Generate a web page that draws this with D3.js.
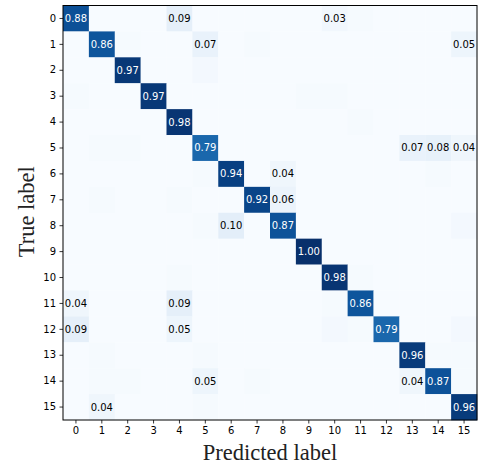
<!DOCTYPE html>
<html><head><meta charset="utf-8">
<script src="https://cdn.jsdelivr.net/npm/d3@7"></script>
<style>body{margin:0;background:#fff}svg{display:block}</style>
</head><body>
<svg id="c" width="478" height="466"></svg>
<script>
const labels = ["0","1","2","3","4","5","6","7","8","9","10","11","12","13","14","15"];
const xTitle = "Predicted label";
const yTitle = "True label";
// rows = true label, columns = predicted label
const matrix = [
 [0.88,0,0,0,0.09,0,0,0,0,0,0.03,0.01,0,0,0,0],
 [0,0.86,0.01,0,0,0.07,0,0.01,0,0,0,0,0,0,0,0.05],
 [0,0,0.97,0,0,0.02,0,0,0,0,0,0,0,0,0,0],
 [0.01,0,0,0.97,0,0,0,0,0,0.01,0.01,0,0,0,0,0],
 [0,0,0,0,0.98,0,0,0,0,0,0,0.01,0,0,0,0],
 [0,0.01,0.01,0,0,0.79,0,0,0,0,0,0,0,0.07,0.08,0.04],
 [0,0,0,0,0,0.01,0.94,0,0.04,0,0,0,0,0,0.01,0],
 [0,0.01,0,0,0.01,0,0,0.92,0.06,0,0,0,0,0,0,0],
 [0,0,0,0,0,0.01,0.10,0,0.87,0,0,0,0,0,0,0.02],
 [0,0,0,0,0,0,0,0,0,1.00,0,0,0,0,0,0],
 [0,0,0,0,0.01,0,0,0,0,0,0.98,0.01,0,0,0,0],
 [0.04,0,0,0,0.09,0,0,0,0,0,0.01,0.86,0,0,0,0],
 [0.09,0,0,0,0.05,0,0,0,0,0,0.02,0.01,0.79,0,0,0.02],
 [0,0.01,0,0,0,0.01,0,0,0,0,0,0,0,0.96,0.01,0.01],
 [0,0.01,0.01,0,0,0.05,0,0.01,0,0,0,0,0,0.04,0.87,0.01],
 [0,0.04,0,0,0,0.01,0,0,0,0,0,0,0,0,0,0.96]
];

const svg = d3.select("#c");
const L = 63, T = 5.5, W = 414, H = 414.5;
const x = d3.scaleBand().domain(labels).range([L, L + W]);
const y = d3.scaleBand().domain(labels).range([T, T + H]);
const vmax = d3.max(matrix.flat());
const color = d3.scaleSequential(d3.interpolateBlues).domain([0, vmax]);

const cells = [];
matrix.forEach((row, i) => row.forEach((v, j) => cells.push({r: labels[i], c: labels[j], v})));

svg.append("g").selectAll("rect").data(cells).join("rect")
  .attr("x", d => x(d.c)).attr("y", d => y(d.r))
  .attr("width", x.bandwidth() + 0.3).attr("height", y.bandwidth() + 0.3)
  .attr("fill", d => color(d.v));

svg.append("g").selectAll("text").data(cells.filter(d => d.v >= 0.03)).join("text")
  .attr("x", d => x(d.c) + x.bandwidth() / 2)
  .attr("y", d => y(d.r) + y.bandwidth() / 2)
  .attr("dy", "0.35em")
  .attr("text-anchor", "middle")
  .attr("font-family", "DejaVu Sans")
  .attr("font-size", 10)
  .attr("fill", d => d.v > vmax / 2 ? "#fff" : "#000")
  .text(d => d.v.toFixed(2));

const xAxis = svg.append("g").attr("transform", `translate(0,${T + H})`)
  .call(d3.axisBottom(x).tickSize(3.5).tickPadding(3.5));
const yAxis = svg.append("g").attr("transform", `translate(${L},0)`)
  .call(d3.axisLeft(y).tickSize(3.5).tickPadding(3.5));
[xAxis, yAxis].forEach(g => {
  g.select(".domain").remove();
  g.selectAll("text").attr("font-family", "DejaVu Sans").attr("font-size", 10).attr("fill", "#000");
  g.selectAll("line").attr("stroke", "#000").attr("stroke-width", 0.8);
});

svg.append("rect").attr("x", L).attr("y", T).attr("width", W).attr("height", H)
  .attr("fill", "none").attr("stroke", "#000").attr("stroke-width", 1);

svg.append("text").attr("x", L + W / 2).attr("y", 460)
  .attr("text-anchor", "middle").attr("font-family", "Liberation Serif").attr("font-size", 22.5)
  .attr("fill", "#222").text(xTitle);
svg.append("text").attr("transform", `translate(34,${T + H / 2 - 1}) rotate(-90)`)
  .attr("text-anchor", "middle").attr("font-family", "Liberation Serif").attr("font-size", 22.5)
  .attr("fill", "#222").text(yTitle);
</script>
</body></html>
